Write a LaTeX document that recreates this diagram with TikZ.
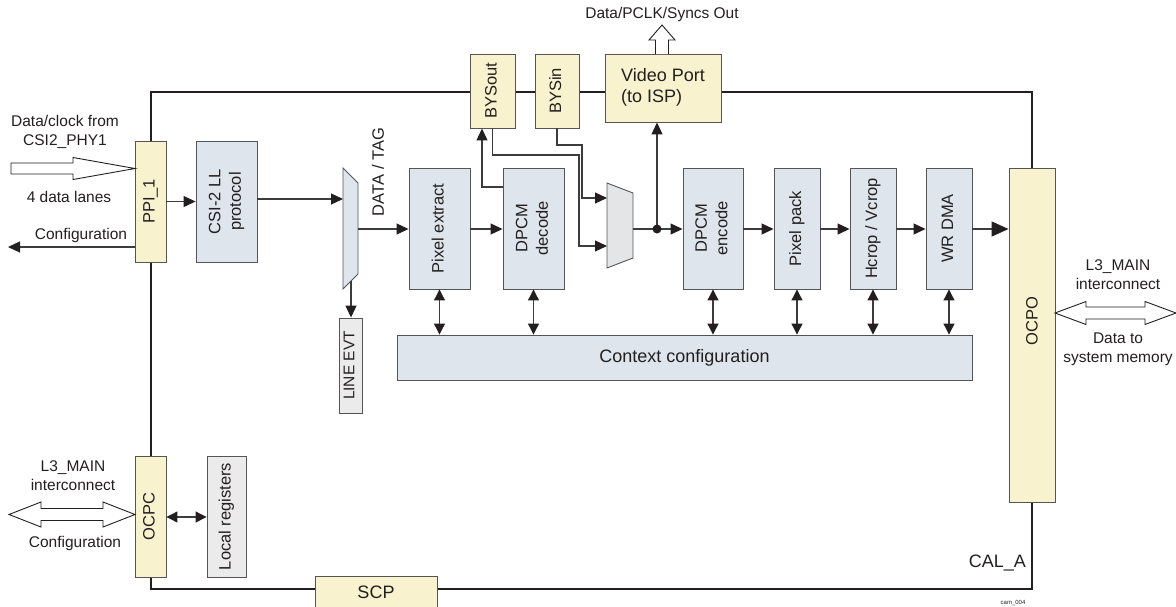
\documentclass[tikz,border=0pt]{standalone}
\usepackage{fontspec}
\setmainfont{Liberation Sans}
\usetikzlibrary{arrows.meta}
\definecolor{yel}{HTML}{F8F3CE}
\definecolor{blu}{HTML}{DFE5EC}
\definecolor{gry}{HTML}{EBEBEB}
\definecolor{mgry}{HTML}{E4E5E7}
\definecolor{edgec}{HTML}{555555}
\definecolor{wirec}{HTML}{3C3C3C}
\definecolor{ink}{HTML}{231F20}
\newcommand{\bt}{\fontsize{16.5}{20.5}\selectfont}
\newcommand{\btl}{\fontsize{18}{21}\selectfont}
\newcommand{\lt}{\fontsize{15.5}{19}\selectfont}
\newcommand{\rt}[1]{\rotatebox{90}{\begin{tabular}{@{}c@{}}#1\end{tabular}}}
\begin{document}
\begin{tikzpicture}[x=1pt,y=-1pt,
  box/.style={draw=edgec,line width=0.9pt,inner sep=0pt,text=ink,font=\bt},
  lab/.style={inner sep=0pt,text=ink,font=\lt,align=center},
  wire/.style={draw=wirec,line width=1.1pt},
  arr/.style={wire,-{Triangle[length=12pt,width=11pt,color=ink]}},
  bigarr/.style={wire,-{Triangle[length=17pt,width=15pt,color=ink]}},
  darr/.style={wire,{Triangle[length=11pt,width=11pt,color=ink]}-{Triangle[length=11pt,width=11pt,color=ink]}},
  hollow/.style={draw=ink,fill=white,line width=0.9pt,line join=miter},
  frame/.style={draw=ink,line width=2.6pt}]
\useasboundingbox (0,0) rectangle (1176,606);

% CAL_A frame
\draw[frame] (151,92) rectangle (1032,589);

% boxes
\node[box,fill=yel,minimum width=31pt,minimum height=121pt] (ppi) at (150.5,201.5) {\rt{PPI\_1}};
\node[box,fill=blu,minimum width=61pt,minimum height=121pt] (csi) at (226.5,201.5) {\rt{CSI-2 LL\\protocol}};
\node[box,fill=blu,minimum width=61pt,minimum height=121pt] (pixex) at (439.5,228.5) {\rt{Pixel extract}};
\node[box,fill=blu,minimum width=61pt,minimum height=121pt] (dpdec) at (533.5,228.5) {\rt{DPCM\\decode}};
\node[box,fill=blu,minimum width=60pt,minimum height=121pt] (dpenc) at (713,228.5) {\rt{DPCM\\encode}};
\node[box,fill=blu,minimum width=46pt,minimum height=121pt] (pack) at (797,228.5) {\rt{Pixel pack}};
\node[box,fill=blu,minimum width=46pt,minimum height=121pt] (hcrop) at (873,228.5) {\rt{Hcrop / Vcrop}};
\node[box,fill=blu,minimum width=46pt,minimum height=121pt] (wrdma) at (949,228.5) {\rt{WR DMA}};
\node[box,fill=yel,minimum width=46pt,minimum height=334pt] (ocpo) at (1032,335) {\rotatebox{90}{\hspace*{28pt}OCPO}};
\node[box,fill=blu,minimum width=575pt,minimum height=45pt,font=\btl] (ctx) at (684.5,357.5) {Context configuration};
\node[box,fill=gry,minimum width=23pt,minimum height=95pt,font=\fontsize{15.5}{19}\selectfont] (lev) at (350.5,365.5) {\rt{LINE EVT}};
\node[box,fill=yel,minimum width=45pt,minimum height=74pt] (bysout) at (492.5,91) {\rt{BYSout}};
\node[box,fill=yel,minimum width=44pt,minimum height=74pt] (bysin) at (557,91) {\rt{BYSin}};
\node[box,fill=yel,minimum width=116pt,minimum height=68pt,font=\btl] (vp) at (663,88) {\begin{tabular}{@{}l@{}}Video Port\\(to ISP)\end{tabular}};
\node[box,fill=yel,minimum width=31pt,minimum height=121pt] (ocpc) at (150.5,516.5) {\rt{OCPC}};
\node[box,fill=gry,minimum width=39pt,minimum height=121pt] (lreg) at (226.5,516.5) {\rt{Local registers}};
\node[box,fill=yel,minimum width=122pt,minimum height=36pt,font=\btl,text depth=0pt] (scp) at (376,594) {\raisebox{3pt}{SCP}};

% muxes
\draw[draw=edgec,fill=blu,line width=0.9pt] (343,168) -- (358,183) -- (358,274) -- (343,289) -- cycle;
\coordinate (m1in) at (343,199);
\coordinate (m1out) at (358,229);
\coordinate (m1b) at (351,281);
\draw[draw=edgec,fill=mgry,line width=0.9pt] (607,183) -- (633,193) -- (633,258) -- (607,268) -- cycle;
\coordinate (m2a) at (607,198);
\coordinate (m2b) at (607,246);
\coordinate (m2out) at (633,229);
\coordinate (dot) at (657,229);

% connectors
\draw[arr] (ppi.east) -- (csi.west);
\coordinate (cfgL) at (8,247);
\draw[arr] (ppi.west |- cfgL) -- (cfgL);
\draw[arr] (csi.east |- m1in) -- (m1in);
\draw[arr] (m1out) -- (pixex.west |- m1out);
\draw[arr] (m1b) -- (m1b |- lev.north);
\draw[arr] (pixex.east |- m1out) -- (dpdec.west |- m1out);
\draw[arr] (dpdec.west |- 0,187) -- (482,187) -- (bysout.south -| 482,0);
\draw[arr] (bysout.south) |- (579,155) |- (m2b);
\draw[arr] (bysin.south) |- (582,145) |- (m2a);
\draw[wire] (m2out) -- (dot);
\draw[arr] (dot) -- (dpenc.west |- dot);
\draw[arr] (dot) -- (dot |- vp.south);
\fill[ink] (dot) circle (4.5pt);
\draw[arr] (dpenc.east |- dot) -- (pack.west |- dot);
\draw[arr] (pack.east |- dot) -- (hcrop.west |- dot);
\draw[arr] (hcrop.east |- dot) -- (wrdma.west |- dot);
\draw[bigarr] (wrdma.east |- dot) -- (ocpo.west |- dot);
\foreach \b in {pixex,dpdec,dpenc,pack,hcrop,wrdma}
  \draw[darr] (\b.south) -- (\b.south |- ctx.north);
\draw[darr] (ocpc.east |- 0,517) -- (lreg.west |- 0,517);

% hollow arrows
\draw[hollow] (11,163) -- (73,163) -- (73,157.5) -- (135,168.5) -- (73,179.5) -- (73,174) -- (11,174) -- cycle;
\draw[hollow] (9,514.5) -- (41,502) -- (41,508.5) -- (103,508.5) -- (103,502) -- (135,514.5) -- (103,527) -- (103,520.5) -- (41,520.5) -- (41,527) -- cycle;
\draw[hollow] (1055,313) -- (1086,301.5) -- (1086,307) -- (1145,307) -- (1145,301.5) -- (1176,313) -- (1145,324.5) -- (1145,319) -- (1086,319) -- (1086,324.5) -- cycle;
\draw[hollow] (655.5,54) -- (655.5,40) -- (649,40) -- (662,25) -- (675,40) -- (668.5,40) -- (668.5,54);

% labels
\node[lab] (l1) at (65,131.5) {Data/clock from\\CSI2\_PHY1};
\node[lab] (l2) at (69,197) {4 data lanes};
\node[lab] (l3) at (81,235) {Configuration};
\node[lab,font=\fontsize{16.5}{19}\selectfont] (l4) at (378,172) {\rotatebox{90}{DATA / TAG}};
\node[lab] (l5) at (662,14) {Data/PCLK/Syncs Out};
\node[lab] (l6) at (1118,274.5) {L3\_MAIN\\interconnect};
\node[lab] (l7) at (1118,349) {Data to\\system memory};
\node[lab] (l8) at (73,476) {L3\_MAIN\\interconnect};
\node[lab] (l9) at (75,543) {Configuration};
\node[lab,font=\btl,anchor=east] (l10) at (1026,563) {CAL\_A};
\node[lab,font=\fontsize{6}{7}\selectfont] (l11) at (1013,603) {cam\_004};
\end{tikzpicture}
\end{document}
